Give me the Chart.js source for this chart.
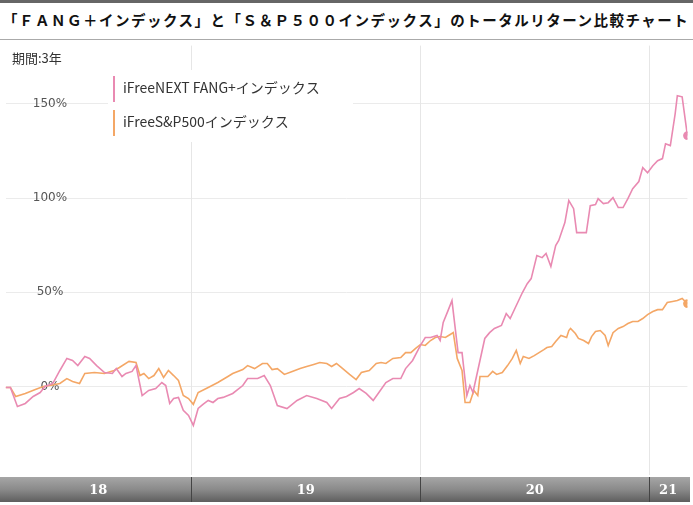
<!DOCTYPE html>
<html>
<head>
<meta charset="utf-8">
<script src="https://cdn.jsdelivr.net/npm/chart.js@4"></script>
<style>
  body { margin: 0; background: #fff; font-family: "Noto Sans CJK JP", sans-serif; }
  #top { height: 40px; border-top: 3px solid #666; border-bottom: 1px solid #aaa; box-sizing: border-box; }
  #title { font-weight: bold; font-size: 14.5px; padding: 6px 0 0 3px; color: #111; letter-spacing: 1.5px; white-space: nowrap; }
  #wrap { position: relative; width: 693px; height: 465px; }
  #period { position: absolute; left: 12px; top: 8px; font-size: 13px; color: #333; z-index: 2; }
</style>
</head>
<body>
<div id="top"><div id="title">「ＦＡＮＧ＋インデックス」と「Ｓ＆Ｐ５００インデックス」のトータルリターン比較チャート</div></div>
<div id="wrap">
  <div id="period">期間:3年</div>
  <canvas id="c" width="693" height="465"></canvas>
</div>
<script>
// x = weeks since start (early 2018), y = total return %
const fangWeeks = [0,1.1,2.7,4.5,6.3,7.9,9.0,10.8,12.4,14.0,15.3,16.5,18.1,19.2,20.8,22.6,24.4,25.3,26.6,27.5,28.9,29.8,31.2,32.7,34.3,35.7,36.6,37.5,38.4,39.5,40.6,41.8,42.9,44.0,45.1,46.3,47.4,48.5,49.7,51.9,54.2,55.3,57.6,59.1,60.5,62.1,64.3,66.6,68.8,71.1,73.4,74.5,76.3,77.9,79.5,80.8,82.4,84.0,85.3,86.9,88.5,90.3,91.4,93.0,94.8,95.9,97.1,98.6,99.3,100.0,101.1,102.0,103.4,104.3,105.4,106.1,106.8,107.9,109.5,110.6,111.7,113.3,114.4,115.3,116.7,118.1,119.2,120.1,121.4,122.6,123.5,124.6,125.7,126.4,127.8,128.7,129.8,130.5,132.7,133.6,134.8,135.4,136.6,137.7,138.8,140.0,141.1,142.2,143.3,144.7,145.6,146.7,147.9,149.0,150.1,150.8,151.9,153.0,153.5,154.6,155.8];
const fangValues = [-0.5,-0.5,-10.6,-9.0,-5.3,-3.2,0,1.6,8.5,14.9,13.8,11.1,15.9,14.9,11.1,7.4,6.9,9.5,5.3,6.9,8.0,11.1,-4.8,-2.1,-1.1,2.1,0.5,-9.0,-6.4,-5.8,-12.7,-15.4,-20.7,-11.7,-9.5,-7.4,-8.5,-6.4,-5.8,-3.7,0.5,4.2,4.2,5.8,0.5,-10.1,-11.7,-7.4,-4.8,-6.4,-8.5,-11.7,-6.4,-5.3,-3.2,-1.1,-3.7,-7.4,-3.2,2.1,4.2,4.2,9.5,13.8,21.8,26.0,26.0,27.1,24.4,34.0,40.3,45.6,18.0,18.0,-4.8,0.5,-3.2,8.5,25.5,28.6,30.8,32.4,38.7,36.1,43.0,49.9,54.6,57.3,69.5,68.4,70.6,63.7,74.8,77.5,87.0,98.7,94.4,81.7,81.7,96.0,96.6,99.7,97.1,97.6,100.3,95.0,95.0,99.7,105.0,108.8,116.2,113.5,117.2,119.9,121.0,128.9,127.9,144.8,154.4,153.8,133.2];
const spWeeks = [0,1.1,2.3,4.5,6.8,8.6,10.2,12.4,14.0,15.3,16.9,18.1,20.3,22.6,24.8,26.0,28.2,29.8,30.7,31.6,32.7,33.9,35.0,36.1,37.2,38.4,39.5,40.6,41.8,42.9,44.0,46.3,48.5,50.8,51.9,54.2,55.3,56.9,58.7,59.8,60.9,62.1,63.7,65.5,67.3,68.8,70.4,71.8,73.4,74.5,75.6,76.7,78.6,80.1,81.3,83.1,84.7,85.8,86.9,88.5,90.3,91.4,92.6,93.7,94.8,95.9,97.1,98.2,99.3,100.5,101.6,102.3,103.2,104.3,105.0,106.1,107.0,107.9,108.4,110.2,111.3,112.2,113.5,114.7,115.8,116.7,117.6,118.3,119.6,120.8,121.9,123.0,123.7,124.8,125.7,126.9,128.2,128.7,129.1,130.2,130.9,132.1,133.2,133.9,134.8,135.9,137.0,137.7,138.8,140.0,141.1,142.2,143.3,144.5,145.6,146.7,147.9,149.0,150.1,151.2,152.4,153.5,154.6,155.8];
const spValues = [-0.5,-0.5,-5.3,-3.7,-1.6,0,0.5,1.6,4.2,2.7,1.6,6.9,7.4,6.9,8.5,10.1,13.3,12.7,5.8,6.9,4.2,5.8,9.5,4.8,8.5,5.8,3.2,-4.8,-6.4,-9.5,-3.2,-0.5,2.1,5.3,6.9,9.0,11.1,9.5,12.2,12.2,9.0,9.5,6.4,8.0,9.5,10.6,11.7,12.7,12.2,10.6,12.2,10.1,6.4,3.7,7.4,8.5,12.2,12.7,12.2,14.9,15.4,18.0,18.0,20.2,22.3,21.8,24.4,26.0,26.5,26.0,27.6,28.6,14.9,8.5,-8.5,-8.5,-2.1,-4.8,5.3,5.3,8.0,6.4,7.4,11.1,14.9,19.1,12.2,15.9,14.9,16.4,18.0,19.6,20.7,21.2,23.9,27.1,26.0,29.7,30.8,28.1,25.5,24.4,22.8,26.5,29.2,29.7,27.1,21.8,28.6,30.8,31.8,33.4,34.5,34.5,36.1,38.2,39.8,40.8,40.8,44.6,45.1,45.6,46.7,44.0];
const yTicks = [0, 50, 100, 150];
const yearLabels = ['18', '19', '20', '21'];
const yearStarts = [0, 42.4, 94.8, 147.0, 155.8]; // week positions of year boundaries
const seriesNames = ['iFreeNEXT FANG+インデックス', 'iFreeS&P500インデックス'];
const pink = '#e98ab2', orange = '#f4a766';

const toPts = (xs, ys) => xs.map((x, i) => ({ x, y: ys[i] }));
const lastDot = n => Array.from({ length: n }, (_, i) => i === n - 1 ? 3.5 : 0);

const decor = {
  id: 'decor',
  beforeDatasetsDraw(chart) {
    const { ctx, chartArea: a, scales: { x, y } } = chart;
    ctx.save();
    ctx.strokeStyle = '#e6e6e6';
    ctx.lineWidth = 1;
    yearStarts.slice(1, 4).forEach(w => {
      const px = Math.round(x.getPixelForValue(w)) + 0.5;
      ctx.beginPath(); ctx.moveTo(px, a.top); ctx.lineTo(px, a.bottom); ctx.stroke();
    });
    // y labels inside the plot
    ctx.fillStyle = '#555';
    ctx.font = '12px "DejaVu Sans", sans-serif';
    ctx.textAlign = 'center'; ctx.textBaseline = 'middle';
    yTicks.forEach(v => ctx.fillText(v + '%', 50, y.getPixelForValue(v)));
    ctx.restore();
  },
  afterDraw(chart) {
    const { ctx, chartArea: a, scales: { x } } = chart;
    ctx.save();
    // bottom year band
    const top = a.bottom + 2, h = 25;
    const g = ctx.createLinearGradient(0, top, 0, top + h);
    g.addColorStop(0, '#a6a6a6'); g.addColorStop(0.5, '#8a8a8a'); g.addColorStop(1, '#5e5e5e');
    ctx.fillStyle = g;
    ctx.fillRect(0, top, chart.width - 3, h);
    ctx.fillStyle = '#fff';
    ctx.font = 'bold 13px "DejaVu Serif", serif';
    ctx.textAlign = 'center'; ctx.textBaseline = 'middle';
    yearLabels.forEach((lab, i) => {
      const x0 = x.getPixelForValue(yearStarts[i]), x1 = x.getPixelForValue(yearStarts[i + 1]);
      ctx.fillText(lab, (x0 + x1) / 2, top + h / 2 + 1);
      if (i > 0) {
        ctx.fillStyle = '#444'; ctx.fillRect(Math.round(x0), top, 1, h); ctx.fillStyle = '#fff';
      }
    });
    // legend
    ctx.fillStyle = '#fff';
    ctx.fillRect(108, 30, 245, 72);
    [pink, orange].forEach((c, i) => {
      const cy = 48 + i * 34;
      ctx.fillStyle = c; ctx.fillRect(113, cy - 12, 2, 26);
      ctx.fillStyle = '#333';
      ctx.font = '14px "Noto Sans CJK JP", sans-serif';
      ctx.textAlign = 'left'; ctx.textBaseline = 'middle';
      ctx.fillText(seriesNames[i], 123, cy);
    });
    ctx.restore();
  }
};

new Chart(document.getElementById('c'), {
  type: 'line',
  data: {
    datasets: [
      { data: toPts(fangWeeks, fangValues), borderColor: pink, backgroundColor: pink, borderWidth: 1.6, pointRadius: lastDot(fangWeeks.length), tension: 0 },
      { data: toPts(spWeeks, spValues), borderColor: orange, backgroundColor: orange, borderWidth: 1.6, pointRadius: lastDot(spWeeks.length), tension: 0 }
    ]
  },
  options: {
    responsive: false,
    animation: false,
    layout: { padding: { top: 5, bottom: 30, left: 2, right: 3 } },
    plugins: { legend: { display: false }, tooltip: { enabled: false } },
    scales: {
      x: { type: 'linear', min: 0, max: 155.8, display: false },
      y: {
        min: -47, max: 181,
        afterBuildTicks: s => { s.ticks = yTicks.map(v => ({ value: v })); },
        border: { display: false },
        grid: { color: '#ebebeb', drawTicks: false },
        ticks: { display: false }
      }
    }
  },
  plugins: [decor]
});
</script>
</body>
</html>
